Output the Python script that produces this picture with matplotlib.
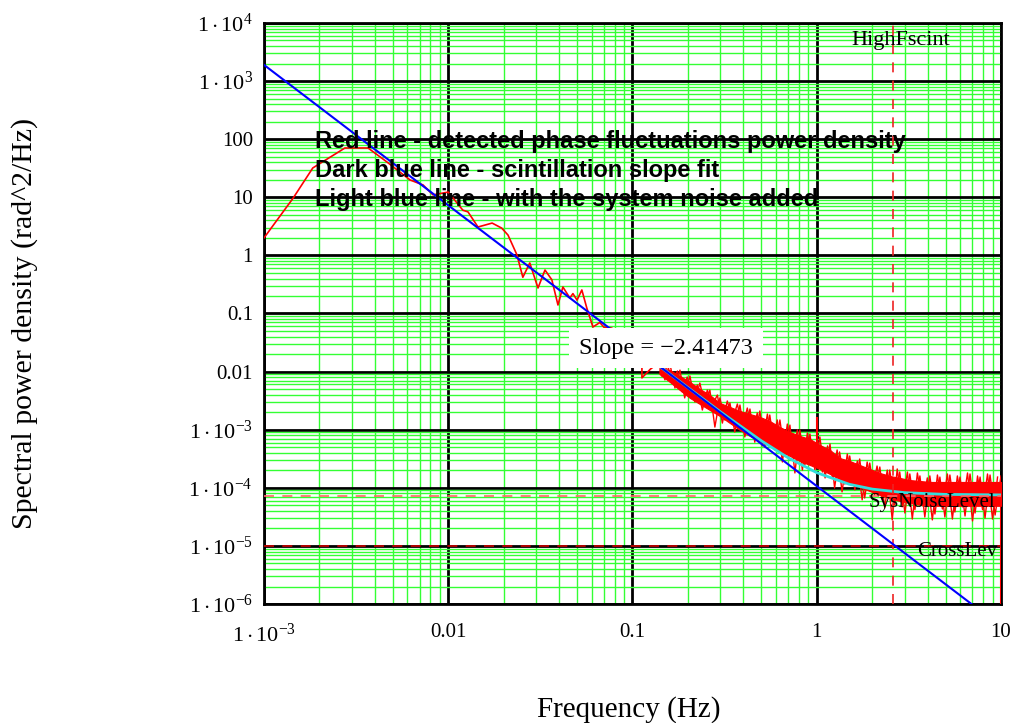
import numpy as np
import matplotlib
matplotlib.use("Agg")
import matplotlib.pyplot as plt
from matplotlib.ticker import LogLocator, FixedLocator, NullFormatter

plt.rcParams["font.family"] = ["Liberation Serif", "DejaVu Serif"]
plt.rcParams["mathtext.fontset"] = "custom"
plt.rcParams["mathtext.rm"] = "Liberation Serif"
plt.rcParams["mathtext.it"] = "Liberation Serif:italic"

# red line, low frequency part
red_f = [1.0e-3, 1.44e-3, 1.84e-3, 2.75e-3, 3.67e-3, 4.65e-3, 6.2e-3, 7.3e-3, 8.26e-3,
         0.0100, 0.0120, 0.0128, 0.0145, 0.0173, 0.0195, 0.0211, 0.0236, 0.0254, 0.0277,
         0.0307, 0.0335, 0.0365, 0.0394, 0.0419, 0.0457, 0.0475, 0.0500, 0.0531, 0.0565,
         0.0610, 0.0665, 0.0700, 0.0773, 0.090, 0.100, 0.1125, 0.1125, 0.125, 0.140]
red_p = [2.0, 9.7, 32, 70.6, 70.6, 40.5, 19.9, 16.3, 11.0,
         12.3, 6.0, 5.6, 3.08, 3.6, 2.95, 2.24, 1.02, 0.42, 0.74,
         0.275, 0.56, 0.38, 0.14, 0.286, 0.185, 0.22, 0.17, 0.254, 0.124,
         0.0586, 0.07, 0.058, 0.056, 0.032, 0.021, 0.013, 0.0078, 0.011, 0.0146]

# red noise band above 0.14 Hz: solid core
core_f = [0.140, 0.1596, 0.181, 0.205, 0.232, 0.263, 0.298, 0.338, 0.383, 0.434,
          0.491, 0.556, 0.631, 0.715, 0.810, 0.918, 1.04, 1.18, 1.33, 1.51,
          1.71, 1.94, 2.20, 2.49, 2.82, 3.20, 3.63, 4.11, 4.66, 5.28,
          5.99, 6.79, 7.70, 8.72, 10.0]
core_hi = [0.01153, 0.0106, 8.4e-3, 6.62e-3, 5.02e-3, 3.95e-3, 2.88e-3, 2.46e-3, 2.1e-3, 1.86e-3,
           1.66e-3, 1.41e-3, 1.11e-3, 9.12e-4, 7.8e-4, 6.92e-4, 5.46e-4, 4.48e-4, 3.26e-4, 2.89e-4,
           2.47e-4, 2.11e-4, 1.80e-4, 1.60e-4, 1.48e-4, 1.36e-4, 1.31e-4, 1.26e-4, 1.26e-4, 1.26e-4,
           1.26e-4, 1.26e-4, 1.26e-4, 1.26e-4, 1.26e-4]
core_lo = [9.1e-3, 6.62e-3, 4.8e-3, 3.52e-3, 2.77e-3, 2.18e-3, 1.72e-3, 1.30e-3, 9.9e-4, 7.8e-4,
           6.33e-4, 5.25e-4, 4.31e-4, 3.53e-4, 2.89e-4, 2.47e-4, 2.11e-4, 1.73e-4, 1.42e-4, 1.21e-4,
           1.03e-4, 8.8e-5, 7.5e-5, 6.68e-5, 5.93e-5, 5.47e-5, 5.1e-5, 4.9e-5, 4.9e-5, 4.9e-5,
           4.9e-5, 4.9e-5, 4.9e-5, 4.9e-5, 4.9e-5]

# red noise band: spikes around the core (two interleaved traces)
noise_a_f = [0.140, 0.150, 0.1596, 0.170, 0.181, 0.192, 0.205, 0.218, 0.232, 0.247,
             0.263, 0.280, 0.298, 0.317, 0.338, 0.359, 0.383, 0.407, 0.434, 0.461,
             0.491, 0.523, 0.556, 0.592, 0.631, 0.671, 0.715, 0.761, 0.810, 0.862,
             0.918, 0.977, 1.04, 1.11, 1.18, 1.25, 1.33, 1.42, 1.51, 1.61,
             1.71, 1.82, 1.94, 2.06, 2.20, 2.34, 2.49, 2.65, 2.82, 3.01,
             3.20, 3.41, 3.63, 3.86, 4.11, 4.38, 4.66, 4.96, 5.28, 5.62,
             5.99, 6.38, 6.79, 7.23, 7.70, 8.19, 8.72, 9.29, 10.0]
noise_a_p = [0.01462, 7.2e-3, 0.01352, 5.22e-3, 0.0106, 3.52e-3, 8.4e-3, 3.0e-3, 6.36e-3, 2.66e-3,
             4.8e-3, 1.11e-3, 3.52e-3, 1.47e-3, 2.88e-3, 9.12e-4, 2.66e-3, 7.5e-4, 2.27e-3, 6.1e-4,
             2.1e-3, 5.04e-4, 1.79e-3, 4.48e-4, 1.47e-3, 3.67e-4, 1.2e-3, 1.80e-4, 9.9e-4, 2.47e-4,
             8.43e-4, 2.02e-4, 7.5e-4, 1.48e-4, 5.68e-4, 9.9e-5, 4.14e-4, 1.16e-4, 3.53e-4, 9.2e-5,
             3.13e-4, 6.68e-5, 2.67e-4, 7.5e-5, 2.28e-4, 4.49e-5, 2.02e-4, 5.1e-5, 1.87e-4, 3.68e-5,
             1.73e-4, 4.2e-5, 1.60e-4, 3.14e-5, 1.60e-4, 3.54e-5, 1.53e-4, 3.14e-5, 1.66e-4, 3.83e-5,
             1.53e-4, 3.27e-5, 1.73e-4, 3.68e-5, 1.53e-4, 3.02e-5, 1.66e-4, 3.4e-5, 1.60e-4]
noise_b_f = [0.1444, 0.1548, 0.1647, 0.1754, 0.1865, 0.1981, 0.2114, 0.2250, 0.2394, 0.2548,
             0.2713, 0.2889, 0.3074, 0.3270, 0.3487, 0.3708, 0.3951, 0.4199, 0.4477, 0.4756,
             0.5066, 0.5396, 0.5736, 0.6108, 0.6510, 0.6923, 0.7377, 0.7851, 0.8357, 0.8893,
             0.9471, 1.008, 1.073, 1.145, 1.217, 1.290, 1.372, 1.465, 1.561, 1.661,
             1.764, 1.878, 2.001, 2.125, 2.270, 2.414, 2.569, 2.734, 2.909, 3.105,
             3.301, 3.518, 3.745, 3.982, 4.240, 4.519, 4.808, 5.117, 5.447, 5.798,
             6.180, 6.582, 7.005, 7.459, 7.944, 8.450, 8.996, 9.58]
noise_b_p = [8.4e-3, 0.01248, 7.2e-3, 0.01023, 4.46e-3, 8.07e-3, 3.8e-3, 5.9e-3, 2.18e-3, 4.8e-3,
             2.66e-3, 3.95e-3, 1.30e-3, 3.12e-3, 1.47e-3, 2.77e-3, 1.07e-3, 2.36e-3, 8.77e-4, 1.94e-3,
             5.25e-4, 1.86e-3, 5.46e-4, 1.47e-3, 2.78e-4, 1.25e-3, 3.67e-4, 9.9e-4, 2.02e-4, 8.77e-4,
             2.78e-4, 6.65e-4, 1.87e-4, 5.25e-4, 1.48e-4, 4.48e-4, 8.5e-5, 3.82e-4, 1.16e-4, 2.89e-4,
             6.2e-5, 2.78e-4, 9.2e-5, 2.37e-4, 6.2e-5, 2.02e-4, 2.8e-5, 2.11e-4, 4.7e-5, 1.87e-4,
             2.9e-5, 1.80e-4, 4.9e-5, 1.48e-4, 2.8e-5, 1.66e-4, 4.31e-5, 1.73e-4, 2.9e-5, 1.60e-4,
             4.7e-5, 1.80e-4, 2.69e-5, 1.60e-4, 4.2e-5, 1.73e-4, 2.9e-5, 1.53e-4]

# isolated spikes in the red trace
spike_f = [1.0, 10.0]
spike_lo = [4.0e-4, 1.0e-6]
spike_hi = [1.66e-3, 1.5e-4]

# dark blue fit line end points
fit_f = [1.0e-3, 10.0]
fit_p = [1.9e3, 4.1e-7]

# light blue line (fit + system noise)
sum_f = [0.13, 0.2, 0.3, 0.5, 0.7, 1.0, 1.5, 2.0, 3.0, 5.0, 10.0]
sum_p = [0.0148, 5.29e-3, 2.03e-3, 6.45e-4, 3.28e-4, 1.82e-4, 1.15e-4, 9.5e-5, 8.25e-5, 7.7e-5, 7.54e-5]

sys_noise = 7.3e-5
cross_lev = 1.0e-5
high_fscint = 2.6
slope = -2.41473

x_ticks = [1e-3, 1e-2, 1e-1, 1, 10]
x_labels = [r"$1\cdot10^{-3}$", "0.01", "0.1", "1", "10"]
y_ticks = [1e-6, 1e-5, 1e-4, 1e-3, 1e-2, 1e-1, 1, 10, 100, 1e3, 1e4]
y_labels = [r"$1\cdot10^{-6}$", r"$1\cdot10^{-5}$", r"$1\cdot10^{-4}$", r"$1\cdot10^{-3}$",
            "0.01", "0.1", "1", "10", "100", r"$1\cdot10^{3}$", r"$1\cdot10^{4}$"]

fig = plt.figure(figsize=(10.15, 7.23), dpi=100)
ax = fig.add_axes([0.2601, 0.1646, 0.7261, 0.8036])
ax.set_xscale("log")
ax.set_yscale("log")
ax.set_xlim(1e-3, 10)
ax.set_ylim(1e-6, 1e4)

ax.xaxis.set_major_locator(FixedLocator(x_ticks))
ax.yaxis.set_major_locator(FixedLocator(y_ticks))
ax.xaxis.set_minor_locator(LogLocator(base=10, subs=np.arange(2, 10), numticks=20))
ax.yaxis.set_minor_locator(LogLocator(base=10, subs=np.arange(2, 10), numticks=20))
ax.xaxis.set_minor_formatter(NullFormatter())
ax.yaxis.set_minor_formatter(NullFormatter())
ax.set_xticklabels(x_labels)
ax.set_yticklabels(y_labels)
ax.tick_params(which="both", length=0, labelsize=15)
ax.tick_params(axis="x", pad=14)
ax.tick_params(axis="y", pad=8)
for lab in ax.get_xticklabels() + ax.get_yticklabels():
    if "$" in lab.get_text():
        lab.set_fontsize(16)

ax.grid(which="minor", color="#33ff33", lw=1.0)
ax.grid(which="major", color="black", lw=2.0)
for s in ax.spines.values():
    s.set_linewidth(2.0)

ax.plot(red_f, red_p, color="red", lw=1.2, zorder=3)
ax.fill_between(core_f, core_lo, core_hi, color="red", lw=0.8, edgecolor="red", zorder=3)
ax.plot(noise_a_f, noise_a_p, color="red", lw=1.0, zorder=3)
ax.plot(noise_b_f, noise_b_p, color="red", lw=1.0, zorder=3)
ax.vlines(spike_f, spike_lo, spike_hi, color="red", lw=1.5, zorder=3)
ax.plot(sum_f, sum_p, color="#33dddd", lw=2.0, zorder=4)
ax.plot(fit_f, fit_p, color="blue", lw=1.5, zorder=5)

ax.axhline(sys_noise, color="#ff6666", lw=1.2, ls=(0, (6, 5)), zorder=4)
ax.axhline(cross_lev, color="#cc0000", lw=1.2, ls=(0, (6, 5)), zorder=4)
ax.axvline(high_fscint, color="#ee2222", lw=1.2, ls=(0, (6, 5)), zorder=4)

ax.text(0.992, 0.174, "SysNoiseLevel", ha="right", va="center", fontsize=15,
        transform=ax.transAxes, zorder=6)
ax.text(0.9946, 0.091, "CrossLev", ha="right", va="center", fontsize=15,
        transform=ax.transAxes, zorder=6)
ax.text(0.7965, 0.9707, "HighFscint", ha="left", va="center", fontsize=16,
        transform=ax.transAxes, zorder=6)

ax.text(0.5455, 0.4406, "Slope = \u2212" + str(abs(slope)), fontsize=17.5, ha="center", va="center",
        transform=ax.transAxes, zorder=7,
        bbox=dict(facecolor="white", edgecolor="none", pad=7))

notes = ["Red line - detected phase fluctuations power density",
         "Dark blue line - scintillation slope fit",
         "Light blue line - with the system noise added"]
for i, line in enumerate(notes):
    ax.text(0.0692, 0.7952 - i * 0.0499, line, fontsize=17, fontweight="bold",
            family="Liberation Sans", ha="left", va="center",
            transform=ax.transAxes, zorder=7)

fig.text(0.6197, 0.018, "Frequency (Hz)", fontsize=21, ha="center", va="center")
fig.text(0.0241, 0.5533, "Spectral power density (rad^2/Hz)", fontsize=21.5,
         rotation=90, ha="center", va="center")

fig.savefig("out.png", dpi=100)
